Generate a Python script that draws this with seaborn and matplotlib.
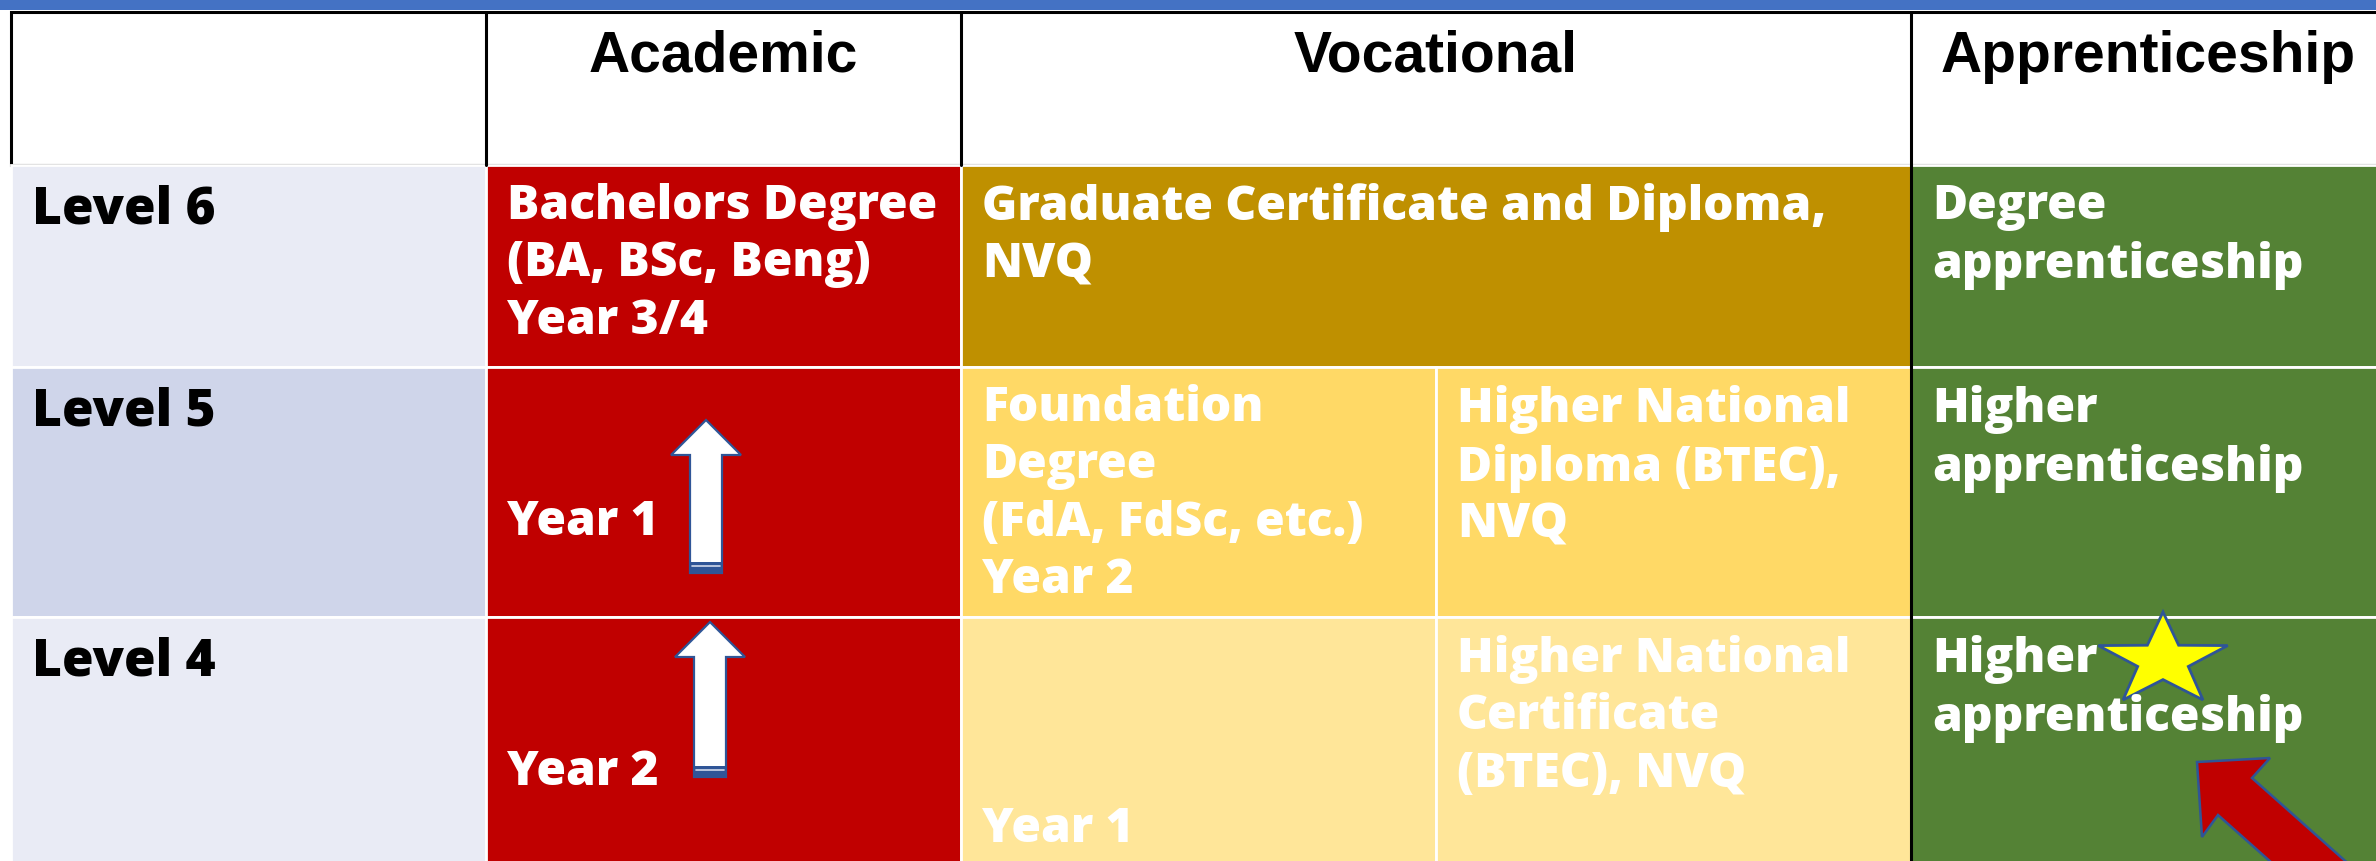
import numpy as np
import matplotlib.pyplot as plt
import seaborn as sns
from matplotlib.patches import Rectangle, Polygon

sns.set_theme(style="white")
plt.rcParams['font.family'] = ['Open Sans', 'DejaVu Sans']

# ---- data ----
pathways = ["Academic", "Vocational", "Apprenticeship"]
pathway_cols = [1, 2, 1]          # sub-columns each pathway uses
levels = ["Level 6", "Level 5", "Level 4"]

qual_level = [0, 0, 0, 1, 1, 1, 1, 2, 2, 2, 2]
qual_col = [1, 2, 4, 1, 2, 3, 4, 1, 2, 3, 4]
qual_span = [1, 2, 1, 1, 1, 1, 1, 1, 1, 1, 1]
qual_text = [
    "Bachelors Degree\n(BA, BSc, Beng)\nYear 3/4",
    "Graduate Certificate and Diploma,\nNVQ",
    "Degree\napprenticeship",
    "Year 1",
    "Foundation\nDegree\n(FdA, FdSc, etc.)\nYear 2",
    "Higher National\nDiploma (BTEC),\nNVQ",
    "Higher\napprenticeship",
    "Year 2",
    "Year 1",
    "Higher National\nCertificate\n(BTEC), NVQ",
    "Higher\napprenticeship",
]
qual_kind = ["acad", "voc6", "appr", "acad", "voc5", "voc5", "appr",
             "acad", "voc4", "voc4", "appr"]
qual_anchor = ["top", "top", "top", "mid", "top", "top", "top",
               "mid", "bottom", "top", "top"]

# ---- styles / layout ----
fills = {"acad": "#C00000", "voc6": "#BF9000", "voc5": "#FFD966",
         "voc4": "#FFE699", "appr": "#548235"}
level_fill = ["#E9EBF5", "#CFD5EA", "#E9EBF5"]
W, H = 2376, 861
x0, col_w = 11, 475
row_edges = [12, 165, 367, 617, 900]
pad = 21

fig = plt.figure(figsize=(W / 100, H / 100), dpi=100)
ax = fig.add_axes([0, 0, 1, 1])
ax.set_xlim(0, W)
ax.set_ylim(H, 0)
ax.axis('off')

def cx(c):
    return x0 + c * col_w

# blue band at top
ax.add_patch(Rectangle((0, 0), W, 10, color="#4472C4", lw=0))

# header row
ax.add_patch(Rectangle((cx(0), row_edges[0]), cx(5) - cx(0), row_edges[1] - row_edges[0],
                       facecolor="white", edgecolor="black", lw=2.2))
c = 1
for name, span in zip(pathways, pathway_cols):
    ax.plot([cx(c), cx(c)], [row_edges[0], row_edges[1]], color="black", lw=2.2)
    ax.text((cx(c) + cx(c + span)) / 2, 30, name, ha="center", va="top", color="black",
            fontsize=41, fontweight="bold", family=["Liberation Sans", "DejaVu Sans"])
    c += span

# level column
for i, lev in enumerate(levels):
    y0, y1 = row_edges[i + 1], row_edges[i + 2]
    ax.add_patch(Rectangle((cx(0), y0), col_w, y1 - y0, facecolor=level_fill[i],
                           edgecolor="white", lw=2))
    ax.text(cx(0) + pad, y0 + 20, lev, ha="left", va="top", fontsize=37,
            fontweight="heavy", color="black")

# qualification cells
for lv, col, span, txt, kind, anc in zip(qual_level, qual_col, qual_span,
                                         qual_text, qual_kind, qual_anchor):
    y0, y1 = row_edges[lv + 1], row_edges[lv + 2]
    ax.add_patch(Rectangle((cx(col), y0), span * col_w, y1 - y0, facecolor=fills[kind],
                           edgecolor="white", lw=2))
    if anc == "top":
        ty, va = y0 + 18, "top"
    elif anc == "mid":
        ty, va = y0 + 156, "center"
    else:
        ty, va = y0 + 213, "center"
    ax.text(cx(col) + pad, ty, txt, ha="left", va=va, fontsize=34.5,
            fontweight="heavy", color="white", linespacing=1.26)

# black divider before apprenticeship column
ax.plot([cx(4), cx(4)], [row_edges[1], H], color="black", lw=2.2)

# white up arrows in academic column
def up_arrow(xc, top, bottom):
    hw, sw, hh = 35, 16, 35
    pts = [(xc, top), (xc + hw, top + hh), (xc + sw, top + hh), (xc + sw, bottom),
           (xc - sw, bottom), (xc - sw, top + hh), (xc - hw, top + hh)]
    ax.add_patch(Polygon(pts, closed=True, facecolor="white", edgecolor="#2F5597", lw=1.6))
    ax.add_patch(Rectangle((xc - sw, bottom - 11), 2 * sw, 11, facecolor="#2F5597", lw=0))
    ax.plot([xc - sw + 2, xc + sw - 2], [bottom - 7, bottom - 7], color="#D0D8EA", lw=1.2)

up_arrow(cx(1) + 220, 420, 573)
up_arrow(cx(1) + 224, 622, 777)

# star
ang = np.pi / 2 + np.arange(10) * np.pi / 5
rad = np.where(np.arange(10) % 2 == 0, 48.6, 19.0)
sx = 2163 + 1.4 * rad * np.cos(ang)
sy = 660.6 - rad * np.sin(ang)
ax.add_patch(Polygon(np.column_stack([sx, sy]), closed=True, facecolor="#FFFF00",
                     edgecolor="#2F5597", lw=2))

# red diagonal arrow
red = [(2197, 762), (2270, 758), (2252, 778), (2452, 956), (2418, 993),
       (2218, 815), (2202, 837)]
ax.add_patch(Polygon(red, closed=True, facecolor="#C00000", edgecolor="#2F5597", lw=1.8))

fig.savefig("out.png", dpi=100)
